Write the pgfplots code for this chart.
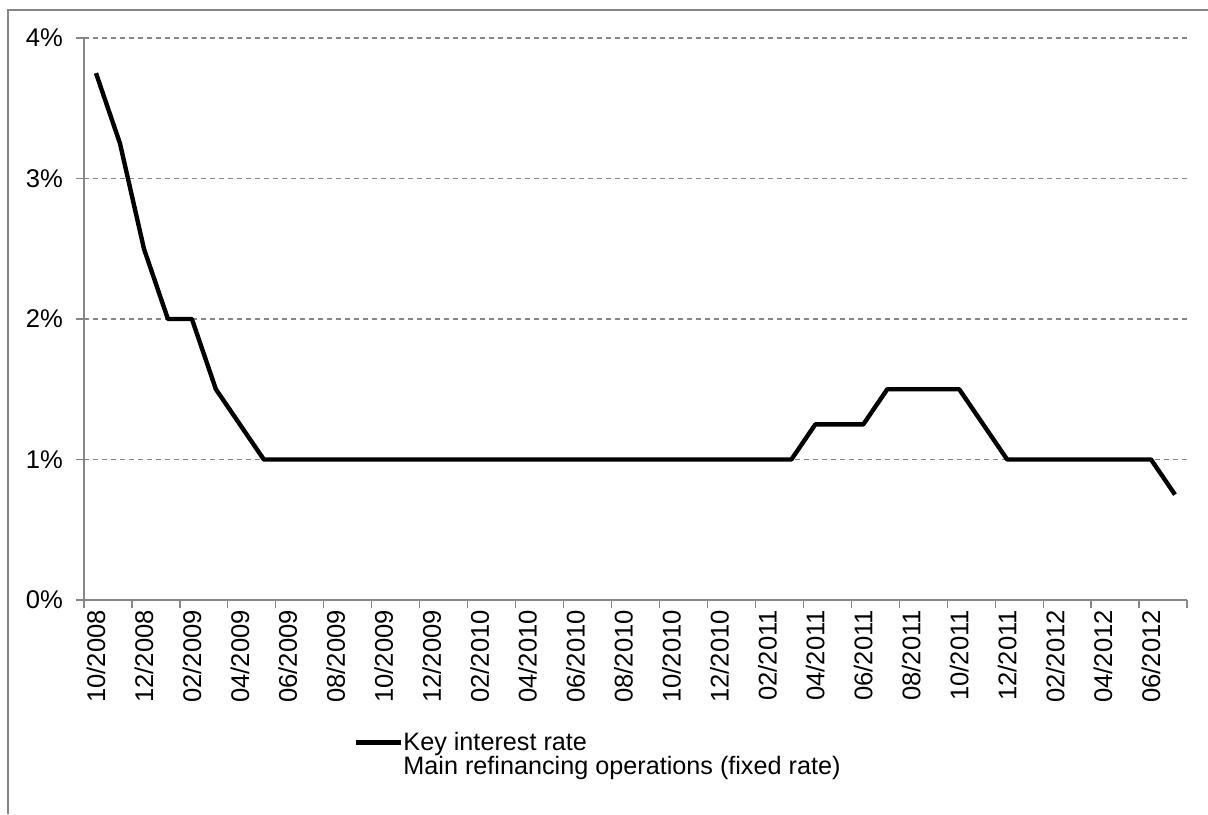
\documentclass[border=0pt]{standalone}
\usepackage{fontspec}
\setmainfont{Liberation Sans}
\usepackage{pgfplots}
\pgfplotsset{compat=1.18}
\definecolor{axisgray}{RGB}{134,134,134}
\begin{document}
\begin{tikzpicture}[x=1pt,y=1pt]
\useasboundingbox (-42,-107) rectangle (562,300);
\draw[axisgray, line width=1pt] (-38,-107) -- (-38,295) -- (562,295);
\begin{axis}[
  at={(0,0)}, anchor=south west,
  scale only axis, width=551.5pt, height=281pt,
  xmin=-0.5, xmax=45.5, ymin=0, ymax=4,
  axis lines=left,
  axis line style={axisgray, line width=0.6pt, -},
  tick align=outside,
  major tick length=4pt, minor tick length=4pt,
  tick style={axisgray, line width=0.6pt},
  xtick={0,2,...,44},
  xticklabels={10/2008,12/2008,02/2009,04/2009,06/2009,08/2009,10/2009,12/2009,02/2010,04/2010,06/2010,08/2010,10/2010,12/2010,02/2011,04/2011,06/2011,08/2011,10/2011,12/2011,02/2012,04/2012,06/2012},
  major x tick style={draw=none},
  minor xtick={-0.5,1.5,...,45.5},
  ytick={0,1,2,3,4},
  yticklabels={0\%,1\%,2\%,3\%,4\%},
  ymajorgrids,
  grid style={axisgray, dash pattern=on 2.5pt off 2pt, line width=0.6pt},
  xticklabel shift=-2.5pt,
  xticklabel style={rotate=90, anchor=east, font=\fontsize{12.8}{15}\selectfont},
  yticklabel style={font=\fontsize{12.8}{15}\selectfont, xshift=-3pt},
  legend style={at={(0.2445,-0.234)}, anchor=north west, draw=none, fill=none,
    inner sep=0pt, row sep=1.5pt, font=\fontsize{12.6}{15}\selectfont,
    nodes={inner sep=0pt},
    /tikz/every even column/.append style={column sep=1.5pt}},
  legend cell align=left,
  legend image code/.code={\draw[line width=2.2pt] (0pt,0pt) -- (22.5pt,0pt);},
]
\addplot[black, line width=2.2pt, line join=round] coordinates {
(0,3.75) (1,3.25) (2,2.5) (3,2.0) (4,2.0) (5,1.5) (6,1.25) (7,1.0)
(8,1.0) (9,1.0) (10,1.0) (11,1.0) (12,1.0) (13,1.0) (14,1.0) (15,1.0)
(16,1.0) (17,1.0) (18,1.0) (19,1.0) (20,1.0) (21,1.0) (22,1.0) (23,1.0)
(24,1.0) (25,1.0) (26,1.0) (27,1.0) (28,1.0) (29,1.0) (30,1.25) (31,1.25)
(32,1.25) (33,1.5) (34,1.5) (35,1.5) (36,1.5) (37,1.25) (38,1.0) (39,1.0)
(40,1.0) (41,1.0) (42,1.0) (43,1.0) (44,1.0) (45,0.75)
};
\addlegendentry{Key interest rate}
\addlegendimage{empty legend}
\addlegendentry{Main refinancing operations (fixed rate)}
\end{axis}
\end{tikzpicture}
\end{document}
